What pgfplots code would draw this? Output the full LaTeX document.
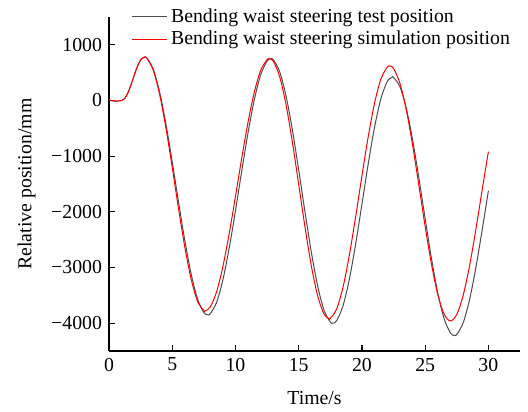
\documentclass[border=0pt]{standalone}
\usepackage{fontspec}
\setmainfont{Liberation Serif}
\usepackage{pgfplots}
\pgfplotsset{compat=1.18}
\begin{document}
\fontsize{9.9}{12}\selectfont
\begin{tikzpicture}
\useasboundingbox (-54.5pt,-30pt) rectangle (209.5pt,175.5pt);
\begin{axis}[
  at={(0,0)}, anchor=south west,
  scale only axis, width=205.5pt, height=167pt,
  xmin=0, xmax=32.5, ymin=-4500, ymax=1500,
  axis x line*=bottom, axis y line*=left,
  axis line style={-, line width=0.6pt},
  tick align=inside, major tick length=3pt,
  tick style={line width=0.6pt, black},
  xtick={0,5,10,15,20,25,30},
  ytick={-4000,-3000,-2000,-1000,0,1000},
  yticklabels={−4000,−3000,−2000,−1000,0,1000},
  /pgf/number format/assume math mode=true,
  xlabel={Time/s}, ylabel={Relative position/mm},
  xlabel style={yshift=-3pt},
  ylabel style={yshift=1pt},
  legend style={at={(0.05,1.045)}, anchor=north west, draw=none, fill=none,
    row sep=-1pt, inner sep=1pt, font=\fontsize{9.9}{12}\selectfont},
  legend cell align=left,
]
\addplot[color=black!70, line width=0.5pt, smooth] coordinates {
(0,10)(0.3,-5)(0.6,-10)(1.0,0)(1.25,37)(1.5,139)(1.75,289)(2.0,458)(2.25,614)(2.5,728)(2.8,780)
(3.0,762)(3.5,560)(4.0,153)(4.5,-420)(5.0,-1101)(5.5,-1825)(6.0,-2521)(6.5,-3120)(7.0,-3564)(7.5,-3809)(7.8,-3850)
(8.0,-3832)(8.5,-3631)(9.0,-3227)(9.5,-2658)(10.0,-1981)(10.5,-1262)(11.0,-571)(11.5,24)(12.0,465)(12.5,709)(12.8,750)
(13.0,731)(13.5,515)(14.0,81)(14.5,-527)(15.0,-1246)(15.5,-2004)(16.0,-2725)(16.5,-3331)(17.0,-3765)(17.5,-3981)(17.7,-4000)
(18.0,-3956)(18.5,-3691)(19.0,-3217)(19.5,-2584)(20.0,-1864)(20.5,-1135)(21.0,-478)(21.5,32)(22.0,340)(22.4,420)
(22.5,415)(23.0,250)(23.5,-133)(24.0,-696)(24.5,-1384)(25.0,-2123)(25.5,-2839)(26.0,-3460)(26.5,-3921)(27.0,-4177)(27.3,-4220)
(27.5,-4202)(28.0,-3998)(28.5,-3588)(29.0,-3014)(29.5,-2336)(30.0,-1620)
};
\addlegendentry{Bending waist steering test position}
\addplot[color=red, line width=0.5pt, smooth] coordinates {
(0,10)(0.3,-5)(0.6,-10)(1.0,0)(1.25,37)(1.5,139)(1.75,289)(2.0,458)(2.25,614)(2.5,728)(2.8,780)
(3.0,760)(3.5,545)(4.0,112)(4.5,-492)(5.0,-1202)(5.5,-1945)(6.0,-2640)(6.5,-3214)(7.0,-3606)(7.5,-3775)(7.6,-3780)
(8.0,-3712)(8.5,-3441)(9.0,-2989)(9.5,-2397)(10.0,-1724)(10.5,-1030)(11.0,-382)(11.5,159)(12.0,545)(12.5,733)(12.7,750)
(13.0,703)(13.5,424)(14.0,-78)(14.5,-746)(15.0,-1507)(15.5,-2277)(16.0,-2971)(16.5,-3510)(17.0,-3836)(17.4,-3920)
(17.5,-3915)(18.0,-3747)(18.5,-3357)(19.0,-2785)(19.5,-2093)(20.0,-1354)(20.5,-646)(21.0,-45)(21.5,386)(22.0,600)(22.2,620)
(22.5,576)(23.0,313)(23.5,-160)(24.0,-794)(24.5,-1520)(25.0,-2263)(25.5,-2942)(26.0,-3487)(26.5,-3838)(27.0,-3960)
(27.5,-3843)(28.0,-3505)(28.5,-2982)(29.0,-2329)(29.5,-1616)(30.0,-918)
};
\addlegendentry{Bending waist steering simulation position}
\end{axis}
\end{tikzpicture}
\end{document}
